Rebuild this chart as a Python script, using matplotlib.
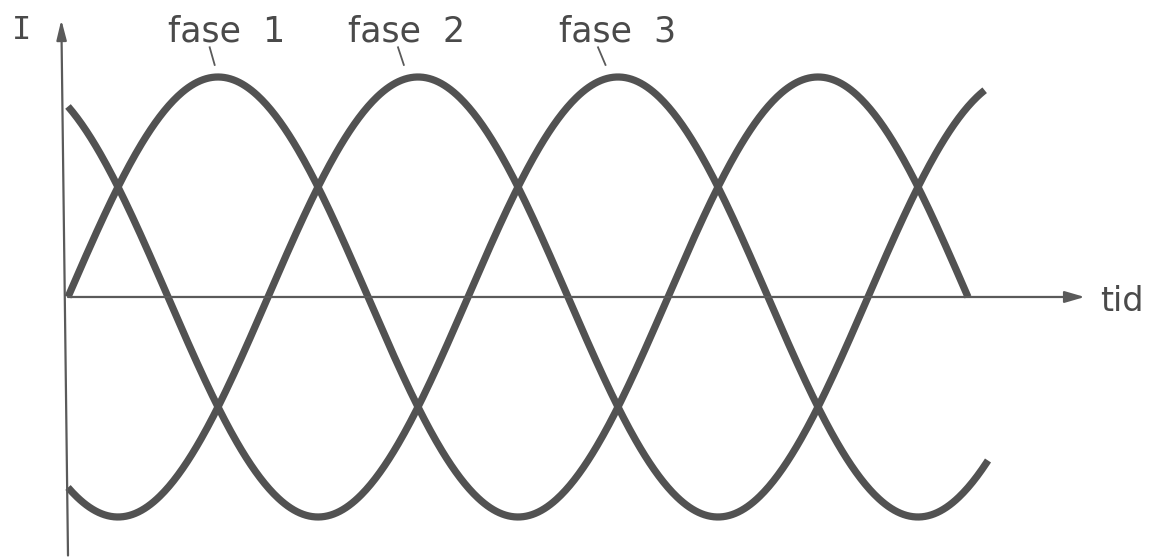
import numpy as np
import matplotlib.pyplot as plt

# three-phase current
phase_names = ['fase 1', 'fase 2', 'fase 3']
phase_shift = [0, 120, 240]      # degrees
phase_end = [540, 550, 552]      # degrees where each curve stops
amplitude = 1.0

fig = plt.figure(figsize=(11.65, 5.59), dpi=100)
ax = fig.add_axes([0, 0, 1, 1])
ax.set_xlim(-40.8, 658.2)
ax.set_ylim(-1.191, 1.35)
ax.axis('off')

curve_col = '#525252'
axis_col = '#5a5a5a'
text_col = '#4a4a4a'

for sh, te in zip(phase_shift, phase_end):
    t = np.linspace(0, te, 600)
    ax.plot(t, amplitude*np.sin(np.radians(t - sh)), color=curve_col, lw=5.2,
            solid_capstyle='butt')

# axes with arrows
ax.annotate('', xy=(610, 0), xytext=(0, 0),
            arrowprops=dict(arrowstyle='-|>,head_length=1.2,head_width=0.35',
                            color=axis_col, lw=1.6, shrinkA=0, shrinkB=0))
ax.annotate('', xy=(-4, 1.26), xytext=(0, -1.175),
            arrowprops=dict(arrowstyle='-|>,head_length=1.2,head_width=0.3',
                            color=axis_col, lw=1.6, shrinkA=0, shrinkB=0))

ax.text(-28, 1.21, 'I', fontsize=23, family='DejaVu Sans Mono', color=text_col,
        ha='center', va='center')
ax.text(619, -0.02, 'tid', fontsize=24, color=text_col, ha='left', va='center')

# labels with short leader lines to each peak
label_t = [95, 203, 330]
lead_t0 = [85, 198, 318]
lead_t1 = [88, 201.5, 322.5]
for name, lx, a, b in zip(phase_names, label_t, lead_t0, lead_t1):
    ax.text(lx, 1.205, name.replace(' ', '  '), fontsize=25, color=text_col,
            ha='center', va='center')
    ax.plot([a, b], [1.135, 1.055], color=axis_col, lw=1.3)

fig.savefig('out.png', dpi=100)
